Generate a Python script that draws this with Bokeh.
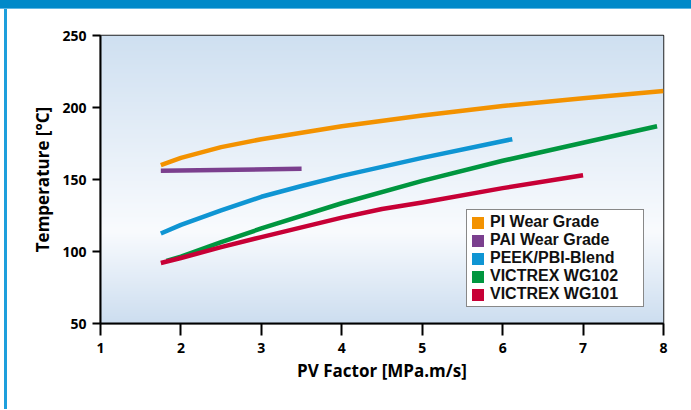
import numpy as np
from bokeh.plotting import figure
from bokeh.models import Range1d, Legend, LegendItem, Div, FixedTicker
from bokeh.layouts import column, row
from bokeh.embed import file_html
from bokeh.resources import INLINE

# ---- data ----
x_ticks = [1, 2, 3, 4, 5, 6, 7, 8]
y_ticks = [50, 100, 150, 200, 250]

pi_x = [1.75, 2.0, 2.5, 3.0, 3.5, 4.0, 5.0, 6.0, 7.0, 8.0]
pi_y = [160.0, 165.0, 172.5, 178.0, 182.5, 187.0, 194.5, 201.0, 206.5, 211.5]

pai_x = [1.75, 3.5]
pai_y = [156.0, 157.5]

peek_x = [1.75, 2.0, 2.5, 3.0, 3.5, 4.0, 5.0, 6.12]
peek_y = [112.5, 118.5, 128.5, 138.0, 145.5, 152.5, 165.0, 178.0]

wg102_x = [1.82, 2.0, 2.5, 3.0, 4.0, 5.0, 6.0, 7.0, 7.92]
wg102_y = [93.5, 96.5, 106.5, 116.0, 133.5, 149.0, 163.0, 175.5, 187.0]

wg101_x = [1.75, 2.0, 2.5, 3.0, 4.0, 4.5, 5.0, 6.0, 7.0]
wg101_y = [92.0, 95.5, 103.0, 110.0, 123.5, 129.5, 134.0, 144.0, 153.0]

names = ["PI Wear Grade", "PAI Wear Grade", "PEEK/PBI-Blend", "VICTREX WG102", "VICTREX WG101"]
colors = ["#f39200", "#7b3f8e", "#0f95d3", "#00963f", "#c70036"]

X_MIN, X_MAX = 1, 8
Y_MIN, Y_MAX = 50, 250

FONT = "Open Sans"
LEGEND_FONT = "Liberation Sans"

p = figure(width=684, height=400, output_backend="svg", toolbar_location=None,
           x_range=Range1d(X_MIN, X_MAX), y_range=Range1d(Y_MIN, Y_MAX),
           min_border_left=93, min_border_right=28, min_border_top=26, min_border_bottom=86)
p.background_fill_color = "white"
p.border_fill_color = "white"
p.outline_line_color = "#222222"
p.outline_line_width = 1.5
p.xgrid.visible = False
p.ygrid.visible = False

# background gradient (blue - white - blue)
n = 288
top_c = np.array([207, 224, 241], dtype=float)
mid_c = np.array([249, 251, 254], dtype=float)
bot_c = np.array([205, 222, 240], dtype=float)
t = np.linspace(0, 1, n)  # 0 = bottom, 1 = top
mid = 0.32
cols = np.zeros((n, 3))
for i, v in enumerate(t):
    if v <= mid:
        f = v / mid
        cols[i] = bot_c + (mid_c - bot_c) * f
    else:
        f = (v - mid) / (1 - mid)
        cols[i] = mid_c + (top_c - mid_c) * f
img = np.zeros((n, 1), dtype=np.uint32)
view = img.view(dtype=np.uint8).reshape((n, 1, 4))
view[:, 0, 0] = cols[:, 0].astype(np.uint8)
view[:, 0, 1] = cols[:, 1].astype(np.uint8)
view[:, 0, 2] = cols[:, 2].astype(np.uint8)
view[:, 0, 3] = 255
p.image_rgba(image=[img], x=X_MIN, y=Y_MIN, dw=X_MAX - X_MIN, dh=Y_MAX - Y_MIN)

series = [(pi_x, pi_y), (pai_x, pai_y), (peek_x, peek_y), (wg102_x, wg102_y), (wg101_x, wg101_y)]
items = []
for (xs, ys), name, c in zip(series, names, colors):
    p.line(xs, ys, line_color=c, line_width=4.5, line_cap="butt", line_join="round")
for (xs, ys), name, c in zip(series, names, colors):
    # zero-size rects: invisible in the plot, give square swatches in the legend
    r = p.rect(x=xs, y=ys, width=0, height=0, fill_color=c, line_color=None)
    items.append(LegendItem(label=name, renderers=[r]))

legend = Legend(items=items, location=(366, 16))
legend.label_text_font = LEGEND_FONT
legend.label_text_font_style = "bold"
legend.label_text_font_size = "16px"
legend.label_text_color = "#111111"
legend.glyph_width = 15
legend.glyph_height = 15
legend.label_height = 15
legend.label_width = 150
legend.label_standoff = 5
legend.spacing = 0
legend.padding = 3
legend.margin = 0
legend.border_line_color = "#111111"
legend.border_line_width = 1.5
legend.background_fill_color = "white"
legend.background_fill_alpha = 1
p.add_layout(legend, "center")

for ax in (p.xaxis[0], p.yaxis[0]):
    ax.axis_line_width = 2
    ax.axis_line_color = "black"
    ax.major_tick_line_width = 2
    ax.major_tick_line_color = "black"
    ax.major_tick_in = 0
    ax.minor_tick_line_color = None
    ax.major_label_text_font = FONT
    ax.major_label_text_font_style = "bold"
    ax.major_label_text_font_size = "14px"
    ax.major_label_text_color = "black"
    ax.axis_label_text_font = FONT
    ax.axis_label_text_font_style = "bold"
    ax.axis_label_text_font_size = "17px"
    ax.axis_label_text_color = "black"

p.xaxis[0].ticker = FixedTicker(ticks=x_ticks)
p.yaxis[0].ticker = FixedTicker(ticks=y_ticks)
p.xaxis[0].major_tick_out = 12
p.yaxis[0].major_tick_out = 8
p.xaxis[0].major_label_standoff = 7
p.yaxis[0].major_label_standoff = 6
p.xaxis[0].axis_label = "PV Factor [MPa.m/s]"
p.yaxis[0].axis_label = "Temperature [°C]"
p.xaxis[0].axis_label_standoff = 3
p.yaxis[0].axis_label_standoff = 5

top_bar = Div(text="", width=691, height=9, margin=0,
              styles={"background-color": "#0089c9", "border-bottom": "1px solid #5fb6e3"})
left_bar = Div(text="", width=3, height=400, margin=(0, 0, 0, 4),
               styles={"background-color": "#1e9fdc"})
layout = column(top_bar, row(left_bar, p, spacing=0), spacing=0)

open("out.html", "w").write(file_html(layout, INLINE))
